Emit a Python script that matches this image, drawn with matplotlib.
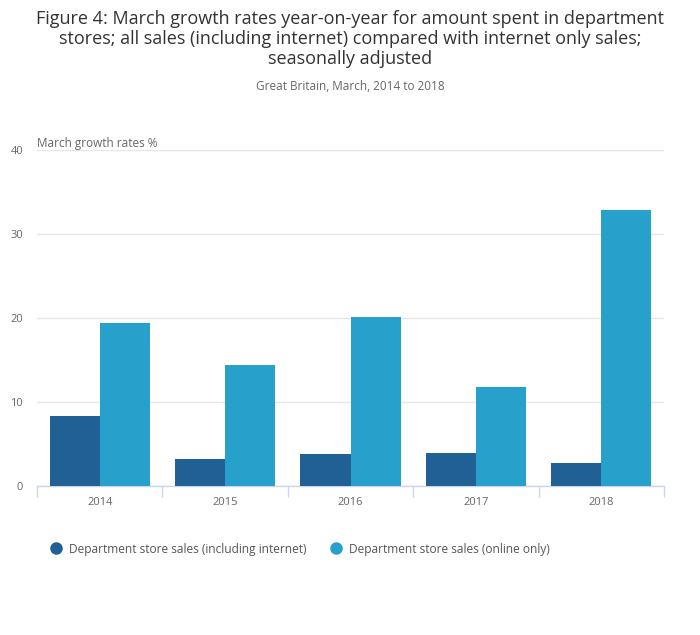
import matplotlib
matplotlib.use("Agg")
import matplotlib.pyplot as plt
import numpy as np
from matplotlib.lines import Line2D

years = ["2014", "2015", "2016", "2017", "2018"]
including_internet = [8.3, 3.2, 3.8, 3.9, 2.7]
online_only = [19.4, 14.4, 20.1, 11.8, 32.9]
series_names = ["Department store sales (including internet)", "Department store sales (online only)"]
colors = ["#206095", "#27a0cc"]

plt.rcParams['font.family'] = ['Open Sans', 'DejaVu Sans']

fig = plt.figure(figsize=(7, 6.35), dpi=100)
ax = fig.add_axes([37/700, 1-486/635, (664-37)/700, (486-150)/635])

x = np.arange(len(years))
w = 0.4
ax.bar(x - w/2, including_internet, width=w, color=colors[0], zorder=3)
ax.bar(x + w/2, online_only, width=w, color=colors[1], zorder=3)

ax.set_xlim(-0.5, len(years) - 0.5)
ax.set_ylim(0, 40)
ax.set_yticks([0, 10, 20, 30, 40])
ax.set_yticklabels(["0", "10", "20", "30", "40"], color="#666666", fontsize=8)
ax.yaxis.grid(True, color="#e6e6e6", linewidth=1, zorder=0)
ax.tick_params(axis='y', length=0, pad=10)
for lab in ax.get_yticklabels():
    lab.set_horizontalalignment('right')

ax.set_xticks(x)
ax.set_xticklabels(years, color="#666666", fontsize=8)
ax.set_xticks(np.arange(len(years) + 1) - 0.5, minor=True)
ax.tick_params(axis='x', which='major', length=0, pad=8)
ax.tick_params(axis='x', which='minor', length=8, color="#ccd6eb", width=1)

for s in ["top", "right", "left"]:
    ax.spines[s].set_visible(False)
ax.spines["bottom"].set_color("#ccd6eb")
ax.spines["bottom"].set_linewidth(1)

fig.text(37/700, 1-143/635, "March growth rates %", color="#666666", fontsize=8.5,
         ha="left", va="center")

fig.text(0.5, 1-39/635,
         "Figure 4: March growth rates year-on-year for amount spent in department\nstores; all sales (including internet) compared with internet only sales;\nseasonally adjusted",
         ha="center", va="center", fontsize=12.95, color="#333333", linespacing=1.12)
fig.text(0.5, 1-86/635, "Great Britain, March, 2014 to 2018", ha="center", va="center",
         fontsize=8.5, color="#666666")

handles = [Line2D([0], [0], marker='o', linestyle='', markersize=8, markerfacecolor=c,
                  markeredgecolor=c) for c in colors]
fig.legend(handles, series_names, loc="center left", bbox_to_anchor=(36/700, 1-549/635),
           ncol=2, frameon=False, fontsize=8.6, labelcolor="#555555",
           handletextpad=0.35, columnspacing=1.75, handlelength=1.5)

fig.savefig("out.png", dpi=100)
